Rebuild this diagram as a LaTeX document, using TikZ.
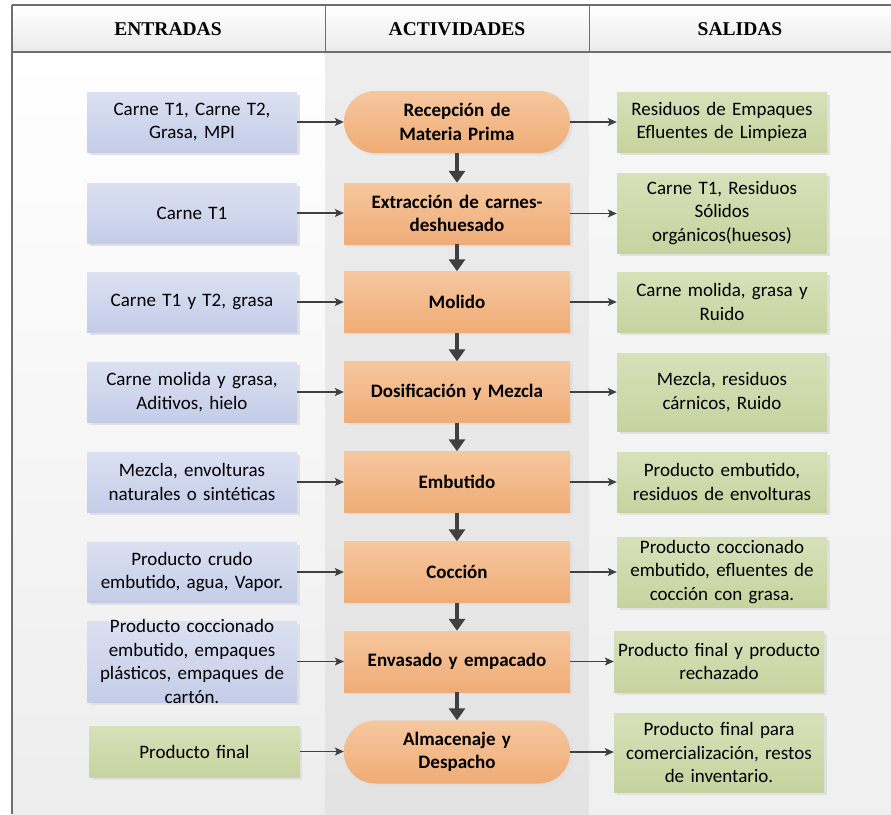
\documentclass[tikz,border=0pt]{standalone}
\usepackage{fontspec}
\setmainfont{Carlito}
\newfontfamily\titlefont{Liberation Serif}
\usepackage{tikz}
\usetikzlibrary{arrows.meta}
\usetikzlibrary{shadows}
\definecolor{flecha}{HTML}{404040}
\definecolor{marco}{HTML}{6E6E6E}
\definecolor{azulA}{RGB}{219,225,242}
\definecolor{azulB}{RGB}{196,204,232}
\definecolor{naranjaA}{RGB}{246,199,158}
\definecolor{naranjaB}{RGB}{239,172,118}
\definecolor{verdeA}{RGB}{216,224,185}
\definecolor{verdeB}{RGB}{199,211,159}

\begin{document}
\begin{tikzpicture}[x=1pt,y=-1pt,
	caja/.style={inner xsep=4pt, inner ysep=0pt, align=center, text=black,
		font=\fontsize{19}{23.5}\selectfont,
		drop shadow={shadow xshift=2.5pt, shadow yshift=-2.5pt, fill=black!12, opacity=1}},
	entrada/.style={caja, top color=azulA, bottom color=azulB, minimum width=210pt, text width=202pt, minimum height=60pt},
	salida/.style={caja, top color=verdeA, bottom color=verdeB, minimum width=210pt, text width=202pt, minimum height=60pt},
	actividad/.style={caja, top color=naranjaA, bottom color=naranjaB, minimum width=226pt, text width=218pt, minimum height=61pt, font=\fontsize{19}{23.5}\selectfont\bfseries},
	extremo/.style={actividad, rounded corners=31pt},
	titulo/.style={font=\fontsize{19.5}{23}\selectfont\titlefont\bfseries},
	entra/.style={line width=1.2pt, draw=flecha, -{Stealth[length=9pt,width=8pt,inset=2pt]}},
	flujo/.style={line width=4.5pt, draw=flecha, -{Triangle[width=16pt,length=12pt]}}]

	\useasboundingbox (0,0) rectangle (891,814);
	% Columns %
	\fill [top color=white, bottom color=black!7] (12,52) rectangle (325,814);
	\fill [top color=black!7, bottom color=black!11] (325,52) rectangle (589,814);
	\fill [top color=black!3, bottom color=black!6] (589,52) rectangle (891,814);
	% Header %
	\fill [top color=white, bottom color=black!8] (12,5) rectangle (891,52);
	\draw [marco, line width=1.5pt] (12,5) -- (891,5);
	\draw [marco, line width=1.5pt] (12,52) -- (891,52);
	\draw [marco, line width=1.5pt] (12,5) -- (12,814);
	\draw [marco, line width=1pt] (325,5) -- (325,52);
	\draw [marco, line width=1pt] (589,5) -- (589,52);
	\node [titulo] (hentradas) at (168,29) {ENTRADAS};
	\node [titulo] (hactividades) at (457,29) {ACTIVIDADES};
	\node [titulo] (hsalidas) at (740,29) {SALIDAS};

	% Entradas %
	\node [entrada] (e1) at (192,122) {Carne T1, Carne T2,\\Grasa, MPI};
	\node [entrada] (e2) at (192,213) {Carne T1};
	\node [entrada] (e3) at (192,302) {Carne T1 y T2, grasa};
	\node [entrada] (e4) at (192,392) {Carne molida y grasa,\\Aditivos, hielo};
	\node [entrada] (e5) at (192,482) {Mezcla, envolturas\\naturales o sintéticas};
	\node [entrada] (e6) at (192,572) {Producto crudo\\embutido, agua, Vapor.};
	\node [entrada, minimum height=81pt, inner ysep=-6pt] (e7) at (192,661.5) {Producto coccionado\\embutido, empaques\\plásticos, empaques de\\cartón.};
	\node [salida, minimum height=51pt] (e8) at (194.5,751.5) {Producto final};

	% Actividades %
	\node [extremo, minimum height=62pt] (a1) at (457,122) {Recepción de\\Materia Prima};
	\node [actividad] (a2) at (457,213.5) {Extracción de carnes-\\deshuesado};
	\node [actividad] (a3) at (457,302) {Molido};
	\node [actividad] (a4) at (457,392) {Dosificación y Mezcla};
	\node [actividad] (a5) at (457,482) {Embutido};
	\node [actividad] (a6) at (457,572) {Cocción};
	\node [actividad] (a7) at (457,661.5) {Envasado y empacado};
	\node [extremo, minimum height=63pt] (a8) at (457,752) {Almacenaje y\\Despacho};

	% Salidas %
	\node [salida] (s1) at (722,122) {Residuos de Empaques\\Efluentes de Limpieza};
	\node [salida, minimum height=80pt] (s2) at (722,213) {Carne T1, Residuos\\Sólidos\\orgánicos(huesos)};
	\node [salida] (s3) at (722,302) {Carne molida, grasa y\\Ruido};
	\node [salida, minimum height=78pt] (s4) at (722,392) {Mezcla, residuos\\cárnicos, Ruido};
	\node [salida] (s5) at (722,482) {Producto embutido,\\residuos de envolturas};
	\node [salida, minimum height=70pt] (s6) at (722,572) {Producto coccionado\\embutido, efluentes de\\cocción con grasa.};
	\node [salida, minimum height=61pt] (s7) at (719,661.5) {Producto final y producto\\rechazado};
	\node [salida, minimum height=79pt] (s8) at (719,752.5) {Producto final para\\comercialización, restos\\de inventario.};

	% Arrows %
	\foreach \i in {1,...,8} {
		\draw [entra] (e\i.east) -- (e\i.east -| a\i.west);
		\draw [entra] (a\i.east) -- (a\i.east -| s\i.west);
	}
	\foreach \i [count=\j from 2] in {1,...,7}
		\draw [flujo] (a\i.south) -- (a\j.north);
\end{tikzpicture}
\end{document}
